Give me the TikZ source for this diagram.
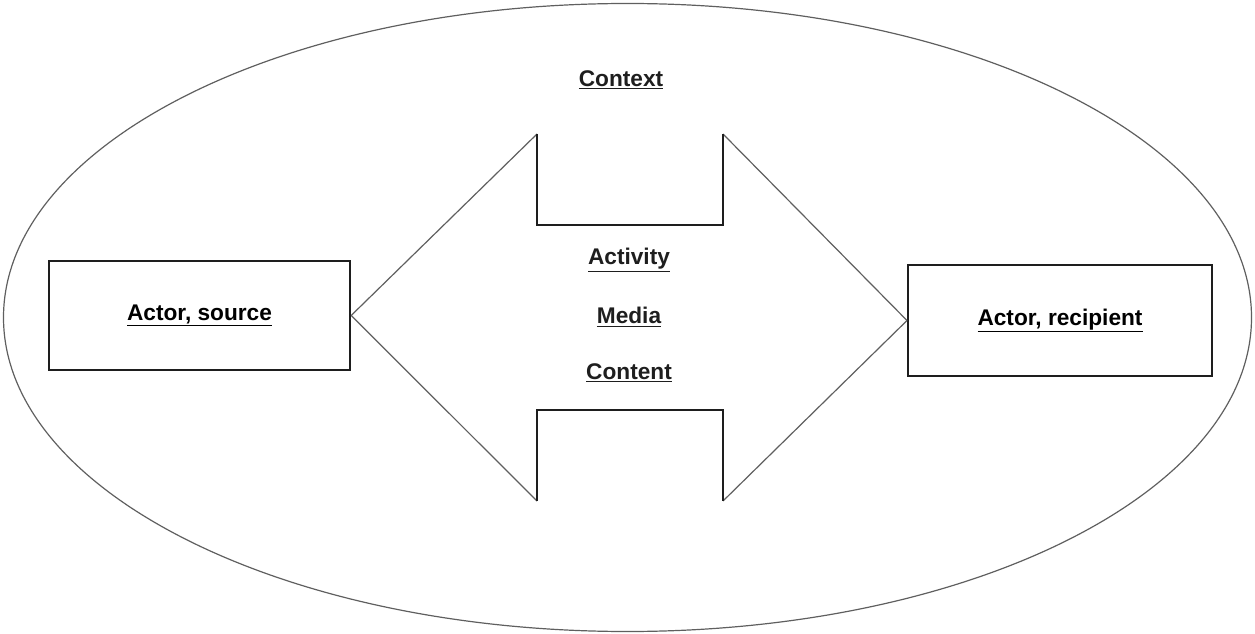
\documentclass[tikz,border=0pt]{standalone}
\usepackage{fontspec}
\setmainfont{Liberation Sans}
\usepackage{tikz}
\usetikzlibrary{positioning}
\definecolor{rimgray}{RGB}{95,95,95}
\definecolor{inkblack}{RGB}{30,30,30}
\tikzstyle{actor} = [draw=inkblack, line width=1.5pt, inner sep=0pt]
\tikzstyle{term} = [inner sep=1pt, text=inkblack]
\tikzstyle{slant} = [draw=rimgray, line width=0.9pt]
\tikzstyle{notch} = [draw=inkblack, line width=1.5pt]

\begin{document}
\begin{tikzpicture}[x=0.75pt, y=-0.75pt, font=\fontsize{17}{20}\selectfont\bfseries]
\useasboundingbox (0,0) rectangle (1255,634);
% Outer ellipse
\draw[rimgray, line width=0.9pt] (627.5,317.5) ellipse (624 and 314);

% Actors
\node[actor, minimum width=226pt, minimum height=82pt] (src) at (199.5,315.5) {\underline{Actor, source}};
\node[actor, minimum width=228pt, minimum height=83pt] (rcp) at (1060,320.5) {\underline{Actor, recipient}};

% Labels
\node[term] (ctx) at (621,80) {\underline{Context}};
\node[term] (act) at (629,260) {\underline{Activity}};
\node[term] (med) at (629,317) {\underline{Media}};
\node[term] (cnt) at (629,373) {\underline{Content}};

% Double arrow outline
\coordinate (tl) at (537,134);
\coordinate (tls) at (537,225);
\coordinate (trs) at (723,225);
\coordinate (tr) at (723,134);
\coordinate (bl) at (537,501);
\coordinate (bls) at (537,410);
\coordinate (brs) at (723,410);
\coordinate (br) at (723,501);

\draw[slant] (src.east) -- (tl);
\draw[slant] (src.east) -- (bl);
\draw[slant] (rcp.west) -- (tr);
\draw[slant] (rcp.west) -- (br);
\draw[notch] (tl) -- (tls) -- (trs) -- (tr);
\draw[notch] (bl) -- (bls) -- (brs) -- (br);
\end{tikzpicture}
\end{document}
